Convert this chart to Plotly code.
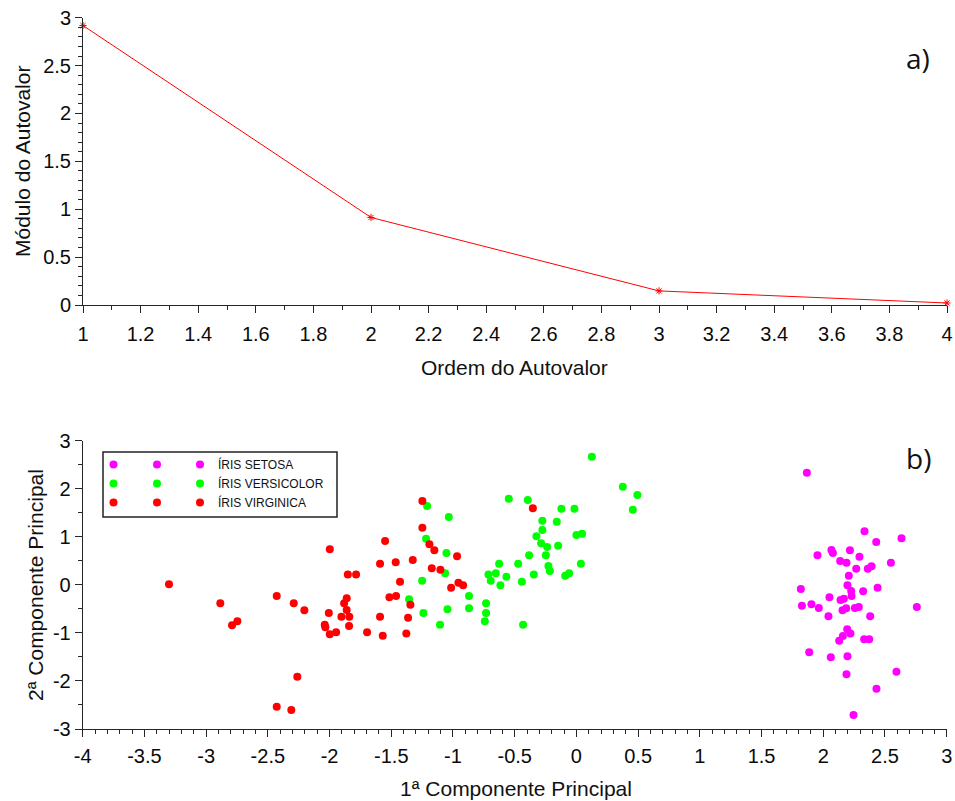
import plotly.graph_objects as go

# --- Eigenvalue scree data ---
eig_order = [1, 2, 3, 4]
eig_values = [2.918, 0.914, 0.147, 0.021]

# --- Principal component scores per species ---
setosa_pc1 = [1.867, 2.334, 2.429, 2.634, 1.953, 2.066, 2.078, 2.216, 2.293, 2.137,
              2.188, 2.548, 2.267, 2.361, 2.391, 2.207, 2.196, 1.818, 2.226, 2.323,
              2.440, 2.050, 2.229, 2.140, 2.167, 1.827, 1.904, 1.964, 2.042, 2.156,
              2.186, 2.256, 2.288, 2.380, 2.758, 2.194, 2.220, 2.159, 2.129, 2.331,
              2.372, 1.886, 2.061, 2.196, 2.188, 2.593, 2.431, 2.245]
setosa_pc2 = [2.333, 1.113, 0.891, 0.968, 0.614, 0.724, 0.662, 0.718, 0.585, 0.495,
              0.460, 0.460, 0.335, 0.335, 0.385, 0.189, -0.010, -0.087, -0.129, -0.135,
              -0.060, -0.260, -0.233, -0.316, -0.289, -0.435, -0.406, -0.483, -0.656, -0.531,
              -0.489, -0.483, -0.462, -0.656, -0.462, -0.926, -1.010, -1.066, -1.163, -1.134,
              -1.134, -1.405, -1.509, -1.488, -1.863, -1.808, -2.162, -2.710]

versicolor_pc1 = [0.125, 0.376, 0.494, 0.457, -0.548, -0.394, -0.122, -0.016, -0.276, -0.159,
                  -0.276, -0.324, -0.286, -0.237, -0.148, 0.000, 0.046, -0.383, -0.248, -0.472,
                  -0.626, -0.227, -0.215, -0.345, 0.036, -0.091, -0.059, -0.442, -0.567, -0.713,
                  -0.653, -0.694, -0.616, -0.732, -0.732, -0.742, -0.432, -0.870, -0.870, -1.045,
                  -1.105, -1.240, -1.356, -1.250, -1.064, -1.053, -1.034, -1.218, -1.210]
versicolor_pc2 = [2.666, 2.042, 1.869, 1.563, 1.792, 1.765, 1.584, 1.584, 1.334, 1.313,
                  1.140, 1.009, 0.864, 0.787, 0.814, 1.036, 1.063, 0.614, 0.614, 0.439,
                  0.439, 0.391, 0.287, 0.218, 0.439, 0.189, 0.239, 0.065, 0.169, 0.218,
                  0.239, 0.085, -0.010, -0.385, -0.587, -0.760, -0.830, -0.233, -0.489, -0.510,
                  -0.830, -0.587, -0.302, 0.085, 0.239, 0.662, 1.411, 0.960, 1.640]

virginica_pc1 = [-1.248, -0.353, -1.248, -1.191, -1.151, -0.967, -1.326, -1.172, -1.102, -1.015,
                 -0.956, -0.918, -1.429, -1.345, -1.364, -1.378, -3.301, -2.885, -2.790, -2.747,
                 -2.428, -2.290, -2.204, -2.261, -2.428, -2.310, -1.998, -2.006, -2.039, -2.034,
                 -1.998, -1.947, -1.904, -1.861, -1.882, -1.861, -1.840, -1.842, -1.852, -1.785,
                 -1.696, -1.591, -1.569, -1.515, -1.461, -1.591, -1.464, -1.550]
virginica_pc2 = [1.744, 1.592, 1.188, 0.843, 0.718, 0.593, 0.516, 0.343, 0.314, -0.060,
                 0.044, -0.010, 0.065, -0.414, -0.685, -1.010, 0.010, -0.385, -0.843, -0.760,
                 -0.233, -0.385, -0.531, -1.912, -2.537, -2.606, 0.739, -0.587, -0.830, -0.885,
                 -1.030, -0.989, -0.664, -0.281, -0.385, -0.524, -0.664, -0.857, 0.218, 0.218,
                 -0.989, -0.664, -1.059, -0.260, -0.233, 0.439, 0.468, 0.912]

species_names = ["ÍRIS SETOSA", "ÍRIS VERSICOLOR", "ÍRIS VIRGINICA"]
species_colors = ["#ff00ff", "#00ff00", "#ff0000"]

pc_ticks = [-4, -3.5, -3, -2.5, -2, -1.5, -1, -0.5, 0, 0.5, 1, 1.5, 2, 2.5, 3]
pc_tick_labels = ["-4", "-3.5", "-3", "-2.5", "-2", "-1.5", "-1", "-0.5",
                  "0", "0.5", "1", "1.5", "2", "2.5", "3"]
pc2_ticks = [-3, -2, -1, 0, 1, 2, 3]
pc2_tick_labels = ["-3", "-2", "-1", "0", "1", "2", "3"]

# --- page geometry (pixels) ---
W, H = 955, 801


def px(x):
    return x / W


def py(y):
    return 1 - y / H


FONT = "Liberation Sans, Arial, sans-serif"
AX = "#262626"

fig = go.Figure()

# scree plot
fig.add_trace(go.Scatter(
    x=eig_order, y=eig_values, mode="lines+markers",
    line=dict(color="#ff0000", width=1),
    marker=dict(symbol="asterisk", size=6, line=dict(color="#ff0000", width=1)),
    xaxis="x", yaxis="y", showlegend=False, cliponaxis=False,
))

# score plot
groups = [(setosa_pc1, setosa_pc2), (versicolor_pc1, versicolor_pc2),
          (virginica_pc1, virginica_pc2)]
for (xs, ys), name, col in zip(groups, species_names, species_colors):
    fig.add_trace(go.Scatter(
        x=xs, y=ys, mode="markers", name=name,
        marker=dict(color=col, size=8, line=dict(width=0)),
        xaxis="x2", yaxis="y2", showlegend=False,
    ))

# hand-drawn legend box (three glyphs per entry, then label)
box = dict(x0=103, x1=337, y0=452, y1=517)
row_y = [464.5, 483.5, 502.5]
glyph_x = [113.5, 157, 200]
text_x = 216
for ry, name, col in zip(row_y, species_names, species_colors):
    fig.add_trace(go.Scatter(
        x=glyph_x, y=[ry] * len(glyph_x), mode="markers",
        marker=dict(color=col, size=8, line=dict(width=0)),
        xaxis="x3", yaxis="y3", showlegend=False, hoverinfo="skip",
    ))
    fig.add_annotation(x=px(text_x), y=py(ry), xref="paper", yref="paper",
                       text=name, showarrow=False, xanchor="left", yanchor="middle",
                       font=dict(family=FONT, size=12, color="#111111"))
fig.add_shape(type="rect", xref="paper", yref="paper",
              x0=px(box["x0"]), x1=px(box["x1"]), y0=py(box["y1"]), y1=py(box["y0"]),
              line=dict(color="#222222", width=1.5), fillcolor="rgba(0,0,0,0)")

axis_common = dict(
    showline=True, linecolor=AX, linewidth=1, mirror=False,
    ticks="outside", ticklen=7, tickcolor=AX, tickwidth=1,
    showgrid=False, zeroline=False,
    tickfont=dict(family=FONT, size=20, color="#0a0a0a"),
    automargin=False,
)

fig.update_layout(
    width=W, height=H,
    margin=dict(l=0, r=0, t=0, b=0),
    paper_bgcolor="white", plot_bgcolor="rgba(0,0,0,0)",
    showlegend=False,
    xaxis=dict(domain=[px(83), px(947)], range=[1, 4], dtick=0.2, tick0=1,
               minor=dict(dtick=0.1, ticklen=4, ticks="outside", tickcolor=AX),
               ticklabelstandoff=4, anchor="y", **axis_common),
    yaxis=dict(domain=[py(305), py(17.7)], range=[0, 3], dtick=0.5, tick0=0,
               minor=dict(dtick=0.1, ticklen=4, ticks="outside", tickcolor=AX),
               anchor="x", **axis_common),
    xaxis2=dict(domain=[px(82.7), px(946.7)], range=[-4, 3],
                tickvals=pc_ticks, ticktext=pc_tick_labels,
                minor=dict(dtick=0.1, tick0=0, ticklen=4, ticks="outside", tickcolor=AX),
                ticklabelstandoff=2, anchor="y2", **axis_common),
    yaxis2=dict(domain=[py(729), py(440.7)], range=[-3, 3],
                tickvals=pc2_ticks, ticktext=pc2_tick_labels,
                minor=dict(dtick=0.5, tick0=0, ticklen=4, ticks="outside", tickcolor=AX),
                anchor="x2", **axis_common),
    xaxis3=dict(domain=[0, 1], range=[0, W], visible=False, anchor="y3"),
    yaxis3=dict(domain=[0, 1], range=[H, 0], visible=False, anchor="x3"),
)

titles = [
    ("Módulo do Autovalor", 22, 162, -90),
    ("Ordem do Autovalor", 514, 367, 0),
    ("2ª Componente Principal", 35, 585, -90),
    ("1ª Componente Principal", 516, 788, 0),
]
for text, tx, ty, ang in titles:
    fig.add_annotation(x=px(tx), y=py(ty), xref="paper", yref="paper", text=text,
                       showarrow=False, textangle=ang, xanchor="center", yanchor="middle",
                       font=dict(family=FONT, size=21, color="#111111"))

for text, ty in [("a)", 58), ("b)", 458)]:
    fig.add_annotation(x=px(918), y=py(ty), xref="paper", yref="paper", text=text,
                       showarrow=False, xanchor="center", yanchor="middle",
                       font=dict(family="Open Sans, sans-serif", size=28, color="#111111"))

fig.write_html("out.html")
